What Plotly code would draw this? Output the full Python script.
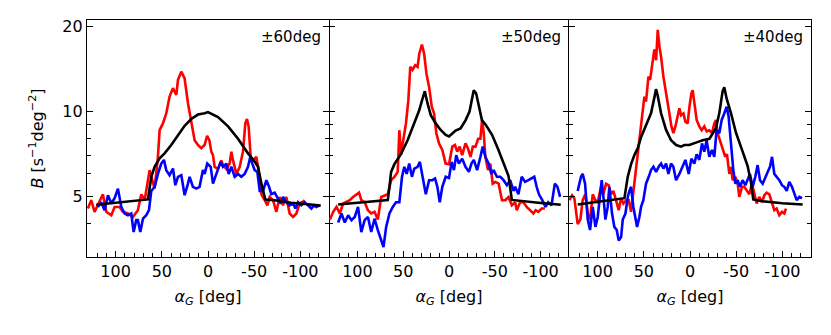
import plotly.graph_objects as go

# ---------------- data ----------------
# Panel 1: ±60deg
p1_red_x = [130, 126.4, 122.8, 119.2, 113.8, 110.1, 104.7, 101.1, 95.7, 92.1, 86.7, 81.3, 75.9, 72.2, 68.6,
            63.2, 59.6, 57.8, 54.2, 52.4, 48.8, 45.2, 41.6, 38.0, 34.3, 32.5, 28.9, 25.3, 21.7, 18.1, 14.5,
            10.9, 7.3, 3.7, 1.0, -1.5, -3.6, -5.4, -7.2, -10.8, -14.4, -16.2, -19.9, -23.5, -25.3, -27.1, -30.7,
            -34.3, -37.9, -40.4, -42.2, -44.0, -46.2, -48.7, -52.3, -54.2, -57.8, -61.4, -64.3, -66.8, -70.4,
            -74.0, -77.6, -81.2, -84.8, -88.4, -92.1, -95.7, -99.3, -102.9, -104.7]
p1_red_y = [4.52, 4.84, 4.40, 4.64, 5.08, 4.40, 4.28, 4.58, 4.58, 4.40, 4.34, 4.22, 4.46, 5.08, 4.84,
            6.19, 5.54, 5.32, 6.90, 8.58, 9.07, 9.84, 11.3, 12.1, 11.45, 12.95, 13.85, 13.1, 10.7, 9.07, 7.9,
            7.6, 7.4, 7.6, 8.2, 7.9, 7.2, 7.0, 6.35, 6.25, 6.7, 6.45, 6.25, 6.55, 7.2, 6.7, 6.0,
            6.35, 7.2, 9.07, 9.4, 8.85, 6.9, 6.7, 6.9, 6.35, 5.08, 4.84, 4.64, 4.97, 4.84,
            4.40, 4.97, 4.64, 4.97, 4.34, 4.22, 4.34, 4.72, 4.78, 4.84]
p1_blue_x = [119.2, 115.6, 112, 108.3, 104.7, 101.1, 97.5, 93.9, 90.3, 86.7, 83.1, 80.5, 77.7, 75.9, 73.3,
             70.4, 66.8, 63.9, 61.4, 57.8, 54.2, 50.6, 47.7, 45.2, 41.6, 37.9, 35.4, 32.5, 28.9, 25.3, 21.7,
             19.9, 16.3, 12.7, 9.1, 5.5, 3.6, 0.8, -2.9, -5.4, -7.9, -10.8, -13.7, -16.2, -19.9, -22.4, -25.3,
             -28.9, -32.5, -36.1, -39.7, -43.3, -45.8, -48.0, -50.5, -53.4, -56, -59.6, -63.2, -66.1, -68.6,
             -72.2, -75.8, -78.7, -81.2, -84.8, -88.4, -92.1, -94.6, -97.5, -101.1, -104.7, -108.3, -111.9,
             -114.8, -117.3, -120.9]
p1_blue_y = [4.58, 4.76, 4.46, 5.04, 4.71, 4.92, 5.32, 4.58, 4.34, 4.28, 4.34, 3.73, 4.11, 4.11, 3.73,
             4.16, 4.28, 4.46, 5.22, 5.40, 6.0, 6.53, 6.73, 6.19, 5.94, 6.27, 5.47, 5.86, 5.94, 5.04, 5.54,
             5.86, 5.40, 5.32, 5.40, 6.19, 6.0, 6.53, 6.36, 5.54, 5.86, 6.19, 6.62, 6.36, 6.53, 6.0, 6.36,
             5.86, 6.0, 5.86, 6.0, 6.36, 6.9, 6.53, 6.19, 6.1, 5.22, 5.22, 5.70, 5.40, 5.08,
             5.15, 4.92, 4.71, 4.97, 4.76, 4.64, 4.71, 4.52, 4.76, 4.64, 4.76, 4.64, 4.52,
             4.64, 4.58, 4.64]
p1_black_x = [121, 65, 61.4, 57.8, 52.4, 47, 39.8, 32.5, 25.3, 18.1, 10.9, 3.6, 0, -10.8, -21.7, -32.5,
              -43.3, -50.5, -54.2, -57.8, -62, -72, -90, -108, -122]
p1_black_y = [4.66, 4.87, 5.86, 6.36, 6.82, 7.1, 7.6, 8.2, 8.9, 9.4, 9.75, 9.85, 9.95, 9.55, 8.85, 8.0,
              7.1, 6.64, 6.36, 5.54, 4.87, 4.84, 4.74, 4.68, 4.63]

# Panel 2: ±50deg
p2_red_x = [130, 126.4, 122.8, 119.2, 115.6, 112, 108.3, 104.7, 101.1, 98.2, 95.7, 92.1, 88.5, 84.9, 81.3,
            77.7, 74.0, 70.4, 66.8, 63.2, 59.6, 56.0, 54.2, 52.4, 49.9, 47.0, 44.4, 42.3, 39.8, 36.9, 34.3,
            32.5, 29.6, 27.1, 24.6, 21.7, 18.8, 16.3, 13.8, 10.9, 7.3, 3.7, 0, -3.6, -6.5, -9.0, -11.6,
            -14.4, -18, -20.6, -23.5, -26, -28.9, -31.8, -34.3, -36.1, -37.9, -39.7, -42.6, -45.1, -47.7,
            -50.5, -54.2, -57.8, -61.4, -65, -68.6, -72.2, -74, -77.6, -81.2, -84.8, -88.4, -92.1, -94.6,
            -97.5, -101.1, -104.7]
p2_red_y = [4.13, 4.40, 4.58, 4.34, 4.71, 4.76, 4.84, 4.97, 5.08, 5.15, 4.84, 4.76, 4.46, 4.34, 4.40,
            4.13, 4.97, 5.04, 5.08, 5.70, 5.86, 6.1, 8.58, 7.05, 7.9, 9.07, 10.95, 14.4, 14.05, 14.6, 14.4,
            16.0, 17.3, 16.0, 13.6, 12.2, 10.4, 9.84, 8.37, 7.7, 7.3, 6.53, 6.5, 7.5, 7.6, 7.2, 7.5,
            7.0, 7.7, 7.4, 6.9, 7.5, 7.5, 8.0, 8.0, 9.33, 8.37, 6.9, 6.19, 6.53, 5.54,
            5.62, 5.54, 4.84, 4.84, 4.97, 4.64, 4.76, 4.46, 4.76, 4.76, 4.58, 4.46, 4.34, 4.46,
            4.40, 4.52, 4.52]
p2_blue_x = [121, 117.4, 113.8, 110.1, 106.5, 102.9, 99.3, 95.7, 92.1, 88.5, 84.9, 81.3, 77.7, 74, 71.5,
             68.6, 65, 61.4, 57.8, 54.2, 51.3, 48.8, 46.2, 43.4, 40.5, 37.9, 34.3, 31.8, 28.9, 25.3, 21.7,
             18.1, 15.2, 12.7, 10.1, 7.3, 3.6, 0, -2.9, -5.4, -7.9, -10.8, -14.4, -18, -21.7, -24.5, -27.1,
             -30.7, -34.3, -36.8, -39.7, -43.3, -46.2, -48.7, -52.3, -56, -59.6, -63.2, -66.8, -70.4, -72.2,
             -75.8, -79.4, -83, -86.6, -90.3, -93.1, -95.7, -98.2, -101.8, -105.4, -108.3, -111.9, -115.5,
             -118.4, -121.3]
p2_blue_y = [4.03, 4.34, 4.03, 4.28, 4.11, 4.22, 4.58, 3.73, 4.11, 4.22, 3.73, 4.16, 3.79, 3.48, 3.30,
             3.89, 4.34, 4.58, 4.76, 4.76, 5.86, 6.36, 6.0, 6.53, 5.86, 6.27, 6.36, 6.62, 5.86, 5.08, 5.70,
             5.70, 5.78, 5.40, 4.76, 5.40, 5.86, 5.8, 6.62, 6.19, 7.0, 6.53, 6.8, 6.36, 6.1, 6.53, 6.73,
             6.19, 6.9, 7.5, 6.9, 6.53, 6.0, 6.19, 5.86, 5.86, 5.70, 5.47, 5.70, 5.22, 5.40,
             5.08, 5.86, 5.62, 5.70, 5.78, 5.86, 5.40, 5.08, 4.84, 4.58, 4.76, 4.64, 5.54,
             5.40, 4.97]
p2_black_x = [121, 66.8, 65, 63.2, 59.6, 52.4, 45.2, 38, 32.5, 28.9, 26.4, 23.5, 19.9, 14.5, 9.1, 3.6, 0,
              -3.6, -7.2, -12.6, -18, -22.4, -24.5, -27, -29.6, -32.5, -36, -39.7, -47, -54, -61, -65,
              -68.6, -79, -97.5, -122]
p2_black_y = [4.67, 4.85, 5.4, 6.1, 6.5, 7.05, 7.9, 9.07, 10.1, 11.1, 11.8, 10.7, 9.7, 9.07, 8.6, 8.26, 8.15,
              8.35, 8.55, 8.7, 9.3, 10.0, 11.0, 11.9, 11.6, 10.4, 9.3, 9.0, 8.26, 7.3, 6.4, 5.9,
              4.85, 4.8, 4.74, 4.66]

# Panel 3: ±40deg
p3_red_x = [130.6, 127.7, 125.2, 121.6, 118.7, 116.2, 113.3, 110.7, 108.2, 105.3, 102.4, 99.9, 96.3, 93.8,
            90.9, 88, 85.5, 83, 80.1, 77.2, 74.6, 72.1, 69.2, 66.3, 63.8, 62, 59.1, 56.6, 54.1, 51.9, 49.4,
            47.6, 45.0, 43.2, 41.1, 38.6, 36.7, 34.9, 33.1, 31.3, 28.8, 25.9, 24.1, 22.3, 20.1, 18, 15.8,
            14, 11.5, 9.7, 7.1, 5, 2.5, 0.6, -1.5, -2.9, -4.7, -7.2, -10.1, -12.6, -15.5, -18, -20.9,
            -23.8, -26.3, -28.1, -29.9, -32.5, -35.3, -38.2, -40, -42.6, -44.4, -46.2, -49.1, -51.6, -53.4,
            -56.3, -58.8, -61.3, -64.2, -67.1, -69.6, -72.2, -75, -77.9, -80.5, -83, -85.9, -88.8, -91.3,
            -93.8, -96.7, -99.6, -102.1, -103.9]
p3_red_y = [4.84, 5.04, 4.92, 3.98, 4.13, 4.84, 5.08, 4.34, 4.13, 5.08, 4.84, 4.76, 5.40, 5.08,
            5.54, 5.47, 5.08, 5.22, 4.84, 4.46, 4.92, 4.71, 4.84, 4.84, 4.40, 4.97, 6.0, 7.3, 8.58, 9.84, 11.3,
            10.85, 13.3, 12.95, 14.85, 16.6, 15.2, 19.5, 17.0, 15.65, 13.3, 11.75, 10.7, 9.84, 8.85, 8.37, 8.85,
            9.42, 10.26, 9.7, 9.84, 9.2, 9.07, 10.4, 11.6, 11.9, 10.7, 9.33, 8.85, 8.58, 8.85, 8.5, 8.58,
            8.37, 9.07, 9.33, 8.37, 7.9, 7.3, 6.9, 7.05, 6.0, 6.36, 5.70, 5.86, 5.54, 4.97,
            5.40, 5.40, 5.22, 5.08, 5.54, 5.08, 4.71, 4.97, 4.76, 5.04, 5.15, 5.08, 4.76, 4.46,
            4.52, 4.28, 4.40, 4.34, 4.52]
p3_blue_x = [121.6, 118, 116.2, 113.6, 110.7, 108.2, 105.3, 102.4, 99.9, 97.4, 95.6, 93.4, 91.6, 89.1, 87.3,
             84.4, 81.9, 79.3, 77.2, 74.6, 72.8, 69.9, 67.4, 65.6, 63.8, 61.3, 59.1, 57.3, 54.8, 53, 50.5,
             47.6, 44.7, 42.2, 39.6, 36.7, 33.9, 31.3, 28.8, 25.9, 23.4, 20.5, 18, 15.1, 11.5, 7.9, 5, 1.4,
             -1.5, -4.7, -7.2, -10.1, -13, -15.5, -18, -20.9, -23.8, -26.3, -28.8, -31.7, -34.3, -37.1,
             -39.7, -41.8, -44.4, -46.9, -49.1, -51.6, -54.1, -57, -59.9, -62.4, -64.9, -67.8, -70.7, -73.2,
             -75.8, -78.7, -81.5, -84.1, -86.6, -88.8, -91.3, -93.8, -96.7, -99.6, -102.1, -104.7, -107.5,
             -110.4, -112.9, -115.5, -118.4, -121.3]
p3_blue_y = [5.22, 5.86, 6.0, 5.54, 4.13, 3.79, 4.58, 3.89, 4.22, 5.08, 5.70, 4.84, 4.13, 4.58, 5.40,
             4.34, 3.89, 3.79, 3.48, 3.58, 4.13, 4.34, 4.97, 5.22, 5.40, 4.58, 4.13, 3.89, 4.22, 4.58, 4.84,
             5.54, 5.86, 6.19, 6.36, 6.1, 6.36, 6.53, 6.27, 6.53, 6.0, 6.53, 6.36, 5.70, 6.0, 6.36, 6.73, 6.0,
             6.8, 6.53, 7.05, 6.73, 7.7, 7.2, 7.9, 6.9, 7.3, 6.9, 8.58, 8.37, 9.33, 9.84,
             10.4, 9.6, 7.5, 6.19, 5.54, 5.70, 5.40, 5.70, 5.47, 5.70, 6.0, 5.40, 5.86, 6.45,
             5.70, 5.54, 5.86, 6.1, 6.36, 6.9, 6.0, 5.86, 5.70, 5.47, 5.40, 5.22, 5.62,
             5.40, 5.08, 4.84, 4.97, 4.92]
p3_black_x = [121.6, 71, 67.4, 63.8, 60.2, 56.6, 53, 47.6, 42.2, 38.6, 36.8, 35, 31.3, 25.9, 20.5, 15, 9.7,
              6.1, 0.8, -6.5, -13.7, -21, -24.5, -28, -31.7, -35.3, -37.1, -39.7, -44.4, -49.8, -57, -62.4,
              -66, -68.5, -78.7, -100, -122]
p3_black_y = [4.67, 4.92, 5.86, 6.5, 7.0, 7.4, 8.1, 8.9, 9.85, 11.2, 12.0, 11.4, 9.85, 8.6, 7.9, 7.6, 7.5,
              7.6, 7.6, 7.75, 7.9, 8.0, 8.3, 8.7, 9.85, 11.8, 12.2, 11.1, 9.85, 8.4, 7.2, 6.4,
              5.6, 4.87, 4.8, 4.72, 4.67]

panel_labels = ["±60deg", "±50deg", "±40deg"]
x_tickvals = [100, 50, 0, -50, -100]
x_ticktext = ["100", "50", "0", "-50", "-100"]
y_tickvals = [5, 10, 20]
y_ticktext = ["5", "10", "20"]
y_minor = [4, 6, 7, 8, 9]

panels = [
    (p1_red_x, p1_red_y, p1_blue_x, p1_blue_y, p1_black_x, p1_black_y),
    (p2_red_x, p2_red_y, p2_blue_x, p2_blue_y, p2_black_x, p2_black_y),
    (p3_red_x, p3_red_y, p3_blue_x, p3_blue_y, p3_black_x, p3_black_y),
]

# ---------------- figure ----------------
FONT = "DejaVu Sans"
fig = go.Figure()
W = 724.0
LW = 1.4
bounds = [(0, 242), (242, 482), (482, 724)]

for i, (rx, ry, bx, by, kx, ky) in enumerate(panels):
    sfx = "" if i == 0 else str(i + 1)
    for xs, ys, col in ((rx, ry, "#ff0000"), (bx, by, "#0000ff"), (kx, ky, "#000000")):
        fig.add_trace(go.Scatter(x=xs, y=ys, mode="lines", line=dict(color=col, width=2.6),
                                 xaxis="x" + sfx, yaxis="y" + sfx, showlegend=False,
                                 hoverinfo="skip"))
    xa = dict(domain=[bounds[i][0] / W, bounds[i][1] / W], range=[131, -131], anchor="y" + sfx,
              tickmode="array", tickvals=x_tickvals, ticktext=x_ticktext,
              ticks="inside", ticklen=6, tickwidth=1.2, tickcolor="black",
              minor=dict(dtick=10, tick0=0, ticks="inside", ticklen=3.5, tickwidth=1, tickcolor="black"),
              showline=True, linecolor="black", linewidth=LW, mirror=True,
              showgrid=False, zeroline=False, automargin=False,
              tickfont=dict(family=FONT, size=16, color="black"),
              title=dict(text="<i>α</i><sub><i>G</i></sub> [deg]",
                         font=dict(family=FONT, size=16, color="black"), standoff=10))
    ya = dict(domain=[0, 1], type="log", range=[0.483, 1.325], anchor="x" + sfx,
              tickmode="array", tickvals=y_tickvals, ticktext=y_ticktext,
              ticks="inside", ticklen=6, tickwidth=1.2, tickcolor="black",
              minor=dict(tickmode="array", tickvals=y_minor, ticks="inside", ticklen=3.5,
                         tickwidth=1, tickcolor="black"),
              # middle panel draws no frame lines of its own (its neighbours' lines are shared)
              showline=(i != 1), linecolor="black", linewidth=LW, mirror="ticks",
              showgrid=False, zeroline=False, showticklabels=(i == 0), automargin=False,
              tickfont=dict(family=FONT, size=16, color="black"))
    if i == 0:
        ya["title"] = dict(text="<i>B</i> [s<sup>−1</sup>deg<sup>−2</sup>]",
                           font=dict(family=FONT, size=16, color="black"), standoff=14)
    else:
        ya["matches"] = "y"
    fig.layout["xaxis" + sfx] = xa
    fig.layout["yaxis" + sfx] = ya
    fig.add_annotation(text=panel_labels[i], xref="x" + sfx + " domain", yref="y" + sfx + " domain",
                       x=0.975, y=0.975, xanchor="right", yanchor="top", showarrow=False,
                       font=dict(family=FONT, size=15, color="black"))

fig.update_layout(width=831, height=335, margin=dict(l=87, r=20, t=20, b=78),
                  paper_bgcolor="white", plot_bgcolor="white",
                  font=dict(family=FONT, color="black"))
fig.write_html("out.html", config={"displayModeBar": False},
               post_script="document.body.style.margin='0';")
